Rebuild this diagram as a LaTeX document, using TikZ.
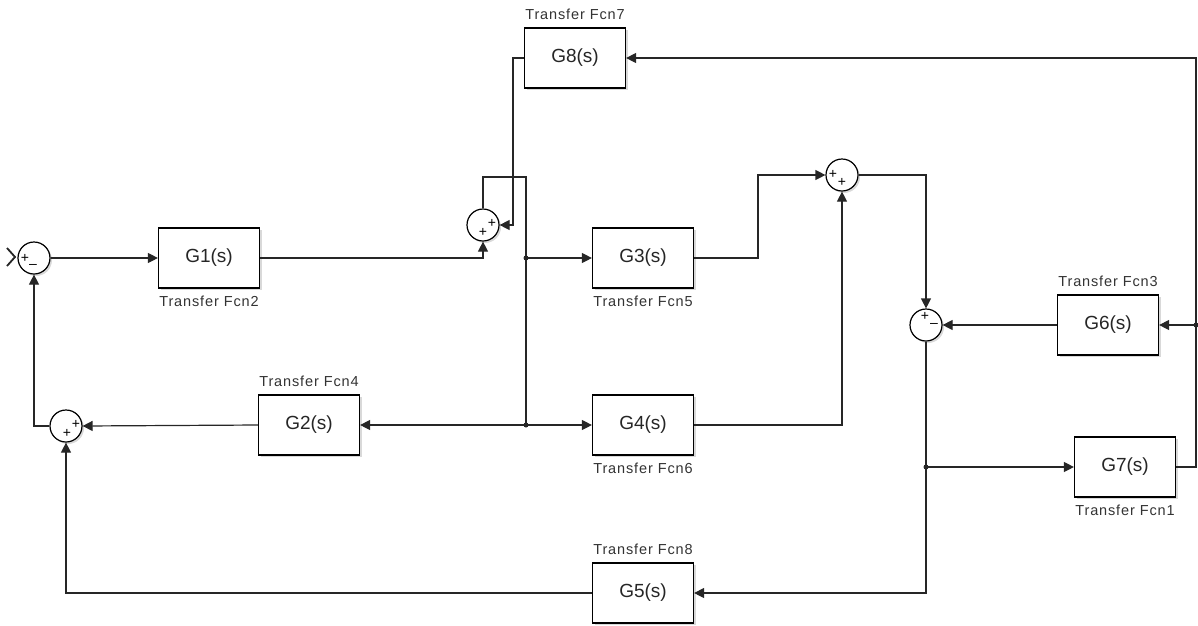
\documentclass[tikz,border=0pt]{standalone}
\usepackage{fontspec}
\setmainfont{Liberation Sans}
\usetikzlibrary{arrows.meta,shadows}

\tikzset{
  ombre/.style={drop shadow={shadow xshift=2pt,shadow yshift=-2pt,opacity=.3}},
  bloc/.style={draw, line width=1.2pt, fill=white, ombre, minimum width=101pt,
    minimum height=60pt, inner sep=0pt, text=black!85, font=\fontsize{19}{19}\selectfont},
  somme/.style={draw, circle, line width=1.2pt, fill=white, ombre, minimum size=32pt, inner sep=0pt},
  signe/.style={inner sep=0pt, font=\fontsize{14}{14}\selectfont},
  titre/.style={text=black!80, label distance=4pt,
    font=\fontsize{14.5}{14.5}\selectfont\addfontfeature{LetterSpace=6}},
  trait/.style={line width=1.2pt, draw=black!85},
  fil/.style={trait, -{Triangle[length=10pt,width=10pt]}},
  point/.style={circle, fill=black!85, inner sep=0pt, minimum size=5pt},
}

\begin{document}
\begin{tikzpicture}[x=1pt, y=-1pt]
	\useasboundingbox (0,0) rectangle (1198,625);
	% blocs
	\node[bloc, label={[titre,name=t2]below:Transfer Fcn2}] (G1) at (209,258) {G1(s)};
	\node[bloc, label={[titre,name=t4]above:Transfer Fcn4}] (G2) at (309,425) {G2(s)};
	\node[bloc, label={[titre,name=t5]below:Transfer Fcn5}] (G3) at (643,258) {G3(s)};
	\node[bloc, label={[titre,name=t6]below:Transfer Fcn6}] (G4) at (643,425) {G4(s)};
	\node[bloc, label={[titre,name=t8]above:Transfer Fcn8}] (G5) at (643,593) {G5(s)};
	\node[bloc, label={[titre,name=t3]above:Transfer Fcn3}] (G6) at (1108,325) {G6(s)};
	\node[bloc, label={[titre,name=t1]below:Transfer Fcn1}] (G7) at (1125,467) {G7(s)};
	\node[bloc, label={[titre,name=t7]above:Transfer Fcn7}] (G8) at (575,58) {G8(s)};
	% sommateurs
	\node[somme] (S1) at (34,258) {};
	\node[somme] (S2) at (483,225) {};
	\node[somme] (S3) at (842,175) {};
	\node[somme] (S4) at (926,325) {};
	\node[somme] (S5) at (66,426) {};
	\node[signe] (p1a) at (25,258) {+};
	\node[signe] (p1b) at (33,266) {–};
	\node[signe] (p2a) at (492,223) {+};
	\node[signe] (p2b) at (483,232) {+};
	\node[signe] (p3a) at (833,174) {+};
	\node[signe] (p3b) at (842,182) {+};
	\node[signe] (p4a) at (925,316) {+};
	\node[signe] (p4b) at (934,325) {–};
	\node[signe] (p5a) at (76,424) {+};
	\node[signe] (p5b) at (67,433) {+};
	% noeuds de branchement
	\node[point] (J1) at (526,258) {};
	\node[point] (J2) at (526,425) {};
	\node[point] (J3) at (926,467) {};
	\node[point] (J4) at (1196,325) {};
	\coordinate (c1) at (526,177);
	\coordinate (c2) at (513,58);
	\coordinate (c3) at (758,258);
	% entree
	\draw[trait, line width=1.8pt] (7,248) -- (15,257) -- (7,266);
	% liaisons
	\draw[fil] (S1.east) -- (G1.west);
	\draw[fil] (G1.east) -| (S2.south);
	\draw[trait] (S2.north) |- (c1) -- (J1.center) -- (J2.center);
	\draw[fil] (J1.center) -- (G3.west);
	\draw[fil] (J2.center) -- (G4.west);
	\draw[fil] (J2.center) -- (G2.east);
	\draw[fil] (G8.west) -- (c2) |- (S2.east);
	\draw[fil] (G3.east) -- (c3) |- (S3.west);
	\draw[fil] (G4.east) -| (S3.south);
	\draw[fil] (S3.east) -| (S4.north);
	\draw[fil] (G6.west) -- (S4.east);
	\draw[trait] (S4.south) -- (J3.center);
	\draw[fil] (J3.center) -- (G7.west);
	\draw[fil] (J3.center) |- (G5.east);
	\draw[trait] (G7.east) -| (J4.center);
	\draw[fil] (J4.center) |- (G8.east);
	\draw[fil] (J4.center) -- (G6.east);
	\draw[fil] (G5.west) -| (S5.south);
	\draw[fil] (G2.west) -- (S5.east);
	\draw[fil] (S5.west) -| (S1.south);
\end{tikzpicture}
\end{document}
